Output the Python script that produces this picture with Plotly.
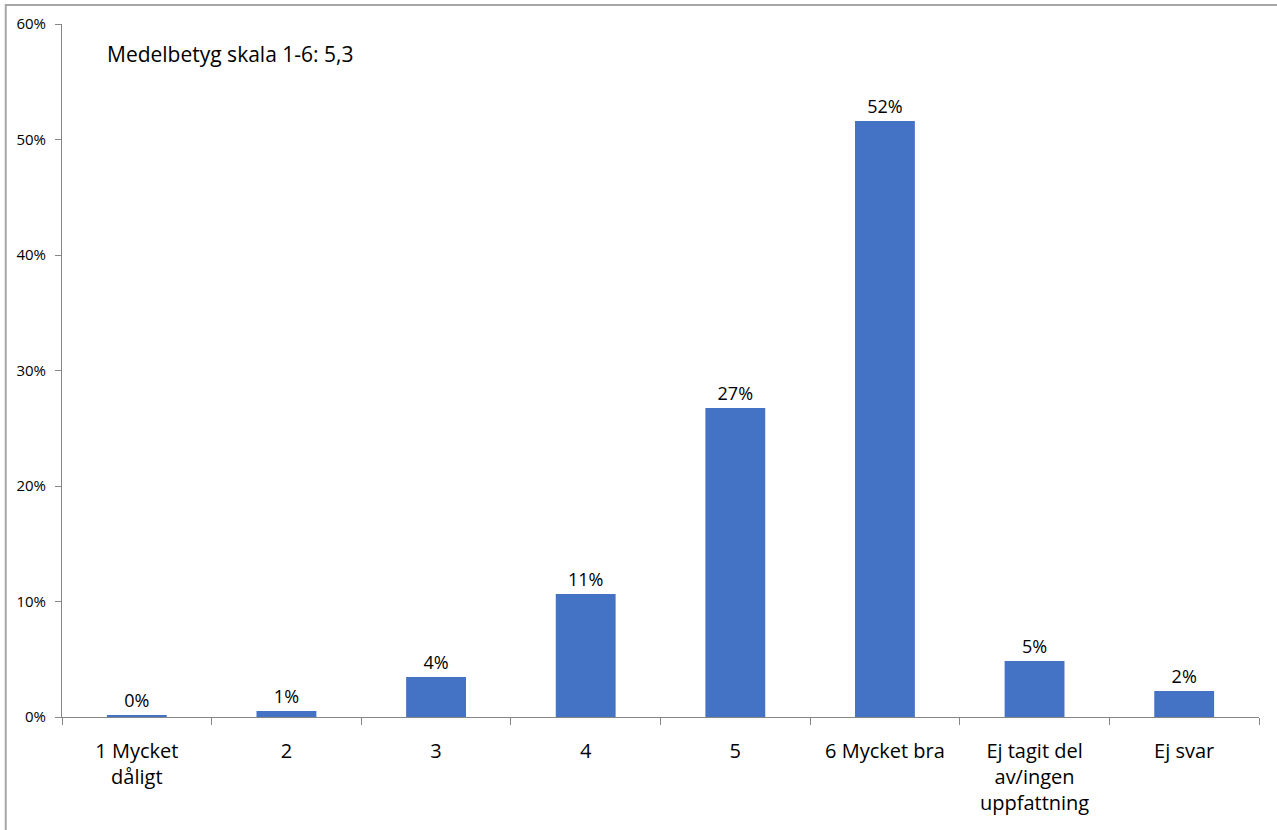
import plotly.graph_objects as go

categories = ["1 Mycket<br>dåligt", "2", "3", "4", "5", "6 Mycket bra",
              "Ej tagit del<br>av/ingen<br>uppfattning", "Ej svar"]
values = [0.15, 0.52, 3.46, 10.65, 26.75, 51.6, 4.85, 2.25]
labels = ["0%", "1%", "4%", "11%", "27%", "52%", "5%", "2%"]
y_ticks = [0, 10, 20, 30, 40, 50, 60]
y_tick_text = ["0%", "10%", "20%", "30%", "40%", "50%", "60%"]
note = "Medelbetyg skala 1-6: 5,3"

FONT = "'Open Sans', Carlito, Calibri, sans-serif"

fig = go.Figure(go.Bar(
    x=categories, y=values, text=labels, textposition="outside",
    textfont=dict(size=18, color="#000000", family=FONT),
    marker=dict(color="#4472C4", line=dict(width=0)),
    width=0.4, cliponaxis=False, hoverinfo="skip",
))

fig.update_layout(
    width=1277, height=830,
    margin=dict(l=62, r=18, t=24, b=113),
    paper_bgcolor="white", plot_bgcolor="white",
    showlegend=False,
    font=dict(family=FONT, color="#000000"),
    xaxis=dict(
        showline=True, linecolor="#868686", linewidth=1,
        ticks="outside", tickson="boundaries", ticklen=7, tickcolor="#868686",
        tickfont=dict(size=20), showgrid=False, fixedrange=True,
        ticklabelstandoff=16,
    ),
    yaxis=dict(
        range=[0, 60], tickvals=y_ticks, ticktext=y_tick_text,
        showline=True, linecolor="#868686", linewidth=1,
        ticks="outside", ticklen=6, tickcolor="#868686",
        tickfont=dict(size=15), showgrid=False, zeroline=False, fixedrange=True,
        ticklabelstandoff=6,
    ),
    annotations=[dict(
        text=note, xref="paper", yref="paper", x=0.036, y=0.956,
        xanchor="left", yanchor="middle", showarrow=False,
        font=dict(size=21, color="#000000"),
    )],
    shapes=[dict(
        type="rect", xref="paper", yref="paper",
        x0=-0.047, x1=1.05, y0=-0.3, y1=1.0275,
        line=dict(color="#A6A6A6", width=2), fillcolor="rgba(0,0,0,0)",
        layer="below",
    )],
)

fig.write_html(
    "out.html",
    config={"displayModeBar": False},
    post_script="document.body.style.margin='0';document.body.style.overflow='hidden';",
)
